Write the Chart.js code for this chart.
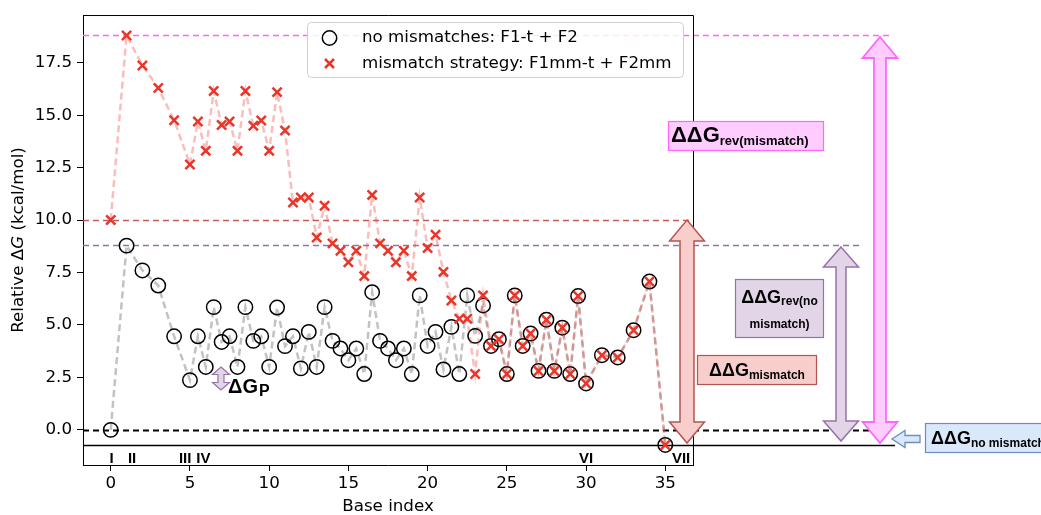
<!DOCTYPE html>
<html>
<head>
<meta charset="utf-8">
<script src="https://cdn.jsdelivr.net/npm/chart.js@4.4.0/dist/chart.umd.min.js"></script>
<style>
  html, body { margin: 0; padding: 0; background: #fff; }
  canvas { display: block; }
</style>
</head>
<body>
<canvas id="c" width="1041" height="515"></canvas>
<script>
// Base positions along the strand
const baseIndex = [0, 1, 2, 3, 4, 5,
  5.5, 6, 6.5, 7, 7.5, 8, 8.5, 9, 9.5, 10,
  10.5, 11, 11.5, 12, 12.5, 13, 13.5, 14, 14.5, 15,
  15.5, 16, 16.5, 17, 17.5, 18, 18.5, 19, 19.5, 20,
  20.5, 21, 21.5, 22, 22.5, 23, 23.5, 24, 24.5, 25,
  25.5, 26, 26.5, 27, 27.5, 28, 28.5, 29, 29.5, 30,
  31, 32, 33, 34, 35];

// Relative free energy (kcal/mol), no mismatches: F1-t + F2
const noMismatch = [0, 8.78, 7.6, 6.88, 4.46, 2.37,
  4.46, 3.0, 5.85, 4.19, 4.46, 3.0, 5.85, 4.24, 4.46, 3.0,
  5.83, 3.99, 4.46, 2.93, 4.67, 3.0, 5.85, 4.24, 3.88, 3.32,
  3.88, 2.66, 6.56, 4.24, 3.88, 3.32, 3.88, 2.66, 6.41, 4.0,
  4.67, 2.88, 4.91, 2.66, 6.41, 4.48, 5.93, 4.0, 4.32, 2.66,
  6.41, 4.0, 4.59, 2.81, 5.25, 2.81, 4.87, 2.66, 6.38, 2.21,
  3.56, 3.45, 4.75, 7.07, -0.72];

// Relative free energy (kcal/mol), mismatch strategy: F1mm-t + F2mm
const mismatch = [10.0, 18.8, 17.37, 16.3, 14.76, 12.65,
  14.7, 13.3, 16.15, 14.53, 14.7, 13.3, 16.15, 14.5, 14.75, 13.3,
  16.1, 14.27, 10.84, 11.08, 11.08, 9.17, 10.68, 8.89, 8.54, 7.99,
  8.54, 7.33, 11.2, 8.89, 8.54, 7.99, 8.54, 7.33, 11.08, 8.67,
  9.3, 7.53, 6.17, 5.3, 5.3, 2.66, 6.41, 4.0, 4.32, 2.66,
  6.41, 4.0, 4.59, 2.81, 5.25, 2.81, 4.87, 2.66, 6.38, 2.21,
  3.56, 3.45, 4.75, 7.07, -0.72];

const xTicks = [0, 5, 10, 15, 20, 25, 30, 35];
const yTicks = [0, 2.5, 5, 7.5, 10, 12.5, 15, 17.5];

// Reference energy levels
const levelRevMismatch = 18.8;
const levelMismatchStart = 10.0;
const levelRevNoMismatch = 8.8;
const levelZero = 0;
const levelEnd = -0.7;

// Stage markers along the base index
const stageLabels = ['I', 'II', 'III', 'IV', 'VI', 'VII'];
const stagePos = [0.05, 1.35, 4.7, 5.85, 30.0, 36.0];

const legendLabels = ['no mismatches: F1-t + F2', 'mismatch strategy: F1mm-t + F2mm'];

const MPL_FONT = '"DejaVu Sans", sans-serif';
const BOX_FONT = '"Liberation Sans", Arial, sans-serif';
const crossRed = '#e8362b';

function pts(ys) { return baseIndex.map((x, i) => ({ x: x, y: ys[i] })); }

function vArrow(ctx, cx, yTop, yBot, bodyW, headW, headLen, fill, stroke, lw) {
  ctx.beginPath();
  ctx.moveTo(cx, yTop);
  ctx.lineTo(cx + headW / 2, yTop + headLen);
  ctx.lineTo(cx + bodyW / 2, yTop + headLen);
  ctx.lineTo(cx + bodyW / 2, yBot - headLen);
  ctx.lineTo(cx + headW / 2, yBot - headLen);
  ctx.lineTo(cx, yBot);
  ctx.lineTo(cx - headW / 2, yBot - headLen);
  ctx.lineTo(cx - bodyW / 2, yBot - headLen);
  ctx.lineTo(cx - bodyW / 2, yTop + headLen);
  ctx.lineTo(cx - headW / 2, yTop + headLen);
  ctx.closePath();
  ctx.fillStyle = fill; ctx.fill();
  ctx.strokeStyle = stroke; ctx.lineWidth = lw; ctx.lineJoin = 'miter'; ctx.stroke();
}

function leftArrow(ctx, xTip, xEnd, cy, bodyH, headH, headLen, fill, stroke, lw) {
  ctx.beginPath();
  ctx.moveTo(xTip, cy);
  ctx.lineTo(xTip + headLen, cy - headH / 2);
  ctx.lineTo(xTip + headLen, cy - bodyH / 2);
  ctx.lineTo(xEnd, cy - bodyH / 2);
  ctx.lineTo(xEnd, cy + bodyH / 2);
  ctx.lineTo(xTip + headLen, cy + bodyH / 2);
  ctx.lineTo(xTip + headLen, cy + headH / 2);
  ctx.closePath();
  ctx.fillStyle = fill; ctx.fill();
  ctx.strokeStyle = stroke; ctx.lineWidth = lw; ctx.stroke();
}

function box(ctx, x, y, w, h, fill, stroke) {
  ctx.fillStyle = fill; ctx.fillRect(x, y, w, h);
  ctx.strokeStyle = stroke; ctx.lineWidth = 1.2; ctx.strokeRect(x + 0.5, y + 0.5, w - 1, h - 1);
}

// "ΔΔG" with a subscript; x is the start, returns the end x
function ddgLabel(ctx, x, base, sub, mainSize, subSize, subDrop) {
  ctx.fillStyle = '#000';
  ctx.textAlign = 'left';
  ctx.textBaseline = 'alphabetic';
  ctx.font = 'bold ' + mainSize + 'px ' + BOX_FONT;
  ctx.fillText('ΔΔG', x, base);
  const w1 = ctx.measureText('ΔΔG').width;
  ctx.font = 'bold ' + subSize + 'px ' + BOX_FONT;
  ctx.fillText(sub, x + w1, base + subDrop);
  return x + w1 + ctx.measureText(sub).width;
}
function ddgWidth(ctx, sub, mainSize, subSize) {
  ctx.font = 'bold ' + mainSize + 'px ' + BOX_FONT;
  const w1 = ctx.measureText('ΔΔG').width;
  ctx.font = 'bold ' + subSize + 'px ' + BOX_FONT;
  return w1 + ctx.measureText(sub).width;
}

const decor = {
  id: 'decor',
  beforeDatasetsDraw(chart) {
    const ctx = chart.ctx, ys = chart.scales.y, a = chart.chartArea;
    ctx.save();
    const hline = (v, xEnd, color, lw, dash) => {
      const y = Math.round(ys.getPixelForValue(v)) + 0.5;
      ctx.beginPath();
      ctx.setLineDash(dash);
      ctx.strokeStyle = color; ctx.lineWidth = lw;
      ctx.moveTo(a.left, y); ctx.lineTo(xEnd, y); ctx.stroke();
    };
    hline(levelRevMismatch, 893, '#ff66ff', 1.6, [6, 4]);
    hline(levelMismatchStart, 690, '#c25b57', 1.5, [6, 4]);
    hline(levelRevNoMismatch, 860, '#9673a6', 1.5, [6, 4]);
    hline(levelZero, 893, '#000', 1.8, [6, 4]);
    hline(levelEnd, 895, '#000', 1.5, []);
    ctx.restore();
  },
  afterDraw(chart) {
    const ctx = chart.ctx, xs = chart.scales.x, ys = chart.scales.y, a = chart.chartArea;
    ctx.save();

    // frame (top and right spines)
    ctx.strokeStyle = '#000'; ctx.lineWidth = 1;
    ctx.beginPath();
    ctx.moveTo(a.left, a.top + 0.5); ctx.lineTo(a.right + 0.5, a.top + 0.5); ctx.lineTo(a.right + 0.5, a.bottom);
    ctx.stroke();

    // legend
    const lx = 307, ly = 22, lw = 376, lh = 55;
    ctx.beginPath();
    ctx.roundRect(lx + 0.5, ly + 0.5, lw, lh, 4);
    ctx.fillStyle = 'rgba(255,255,255,0.85)'; ctx.fill();
    ctx.strokeStyle = '#d0d0d0'; ctx.lineWidth = 1; ctx.stroke();
    ctx.beginPath(); ctx.arc(329.5, 38, 7.2, 0, Math.PI * 2);
    ctx.strokeStyle = '#000'; ctx.lineWidth = 1.5; ctx.stroke();
    ctx.beginPath();
    ctx.moveTo(325, 59); ctx.lineTo(334, 68); ctx.moveTo(334, 59); ctx.lineTo(325, 68);
    ctx.strokeStyle = crossRed; ctx.lineWidth = 2.5; ctx.stroke();
    ctx.fillStyle = '#000'; ctx.font = '16.7px ' + MPL_FONT;
    ctx.textAlign = 'left'; ctx.textBaseline = 'middle';
    ctx.fillText(legendLabels[0], 362, 38);
    ctx.fillText(legendLabels[1], 362, 64);

    // axis titles
    ctx.font = '16.7px ' + MPL_FONT;
    ctx.textAlign = 'center'; ctx.textBaseline = 'middle';
    ctx.fillText('Base index', (a.left + a.right) / 2, 507);
    ctx.save();
    ctx.translate(19, (a.top + a.bottom) / 2);
    ctx.rotate(-Math.PI / 2);
    const parts = [['Relative Δ', '16.7px ' + MPL_FONT], ['G', 'italic 16.7px ' + MPL_FONT], [' (kcal/mol)', '16.7px ' + MPL_FONT]];
    let total = 0;
    parts.forEach(p => { ctx.font = p[1]; total += ctx.measureText(p[0]).width; });
    let px = -total / 2;
    ctx.textAlign = 'left';
    parts.forEach(p => { ctx.font = p[1]; ctx.fillText(p[0], px, 0); px += ctx.measureText(p[0]).width; });
    ctx.restore();

    // stage markers
    ctx.fillStyle = '#000';
    ctx.font = 'bold 15px ' + BOX_FONT;
    ctx.textAlign = 'center'; ctx.textBaseline = 'alphabetic';
    stageLabels.forEach((s, i) => ctx.fillText(s, xs.getPixelForValue(stagePos[i]), 463));

    // ΔG_P marker
    vArrow(ctx, 221, 367, 390, 6, 17, 7.5, '#e1d5e7', '#9673a6', 1.2);
    ctx.fillStyle = '#000'; ctx.textAlign = 'left';
    ctx.font = 'bold 20px ' + BOX_FONT;
    ctx.fillText('ΔG', 228, 393);
    const gw = ctx.measureText('ΔG').width;
    ctx.font = 'bold 16px ' + BOX_FONT;
    ctx.fillText('P', 228 + gw + 1, 396);

    // energy gap arrows
    vArrow(ctx, 687, ys.getPixelForValue(levelMismatchStart), 443, 14, 35, 21, '#f8cecc', '#b85450', 1.5);
    vArrow(ctx, 841, 247, 441, 10, 35, 20, '#e1d5e7', '#9673a6', 1.5);
    vArrow(ctx, 880, 37, 443, 12, 35, 21, '#ffccff', '#ff66ff', 1.8);
    leftArrow(ctx, 892, 920, 439, 7, 17, 13, '#dae8fc', '#6c8ebf', 1.3);

    // labelled boxes
    let w;
    box(ctx, 668, 121, 156, 30, '#ffccff', '#ff66ff');
    ddgLabel(ctx, 671, 142, 'rev(mismatch)', 22, 13, 2.5);

    box(ctx, 735, 279, 89, 59, '#e1d5e7', '#9673a6');
    w = ddgWidth(ctx, 'rev(no', 18, 12);
    ddgLabel(ctx, 779.5 - w / 2, 302.5, 'rev(no', 18, 12, 2.5);
    ctx.font = 'bold 12px ' + BOX_FONT; ctx.textAlign = 'center';
    ctx.fillText('mismatch)', 779.5, 328);

    box(ctx, 697, 355, 120, 30, '#f8cecc', '#b85450');
    w = ddgWidth(ctx, 'mismatch', 18, 12);
    ddgLabel(ctx, 757 - w / 2, 376, 'mismatch', 18, 12, 2.5);

    box(ctx, 925, 423, 130, 30, '#dae8fc', '#6c8ebf');
    ddgLabel(ctx, 931, 444, 'no mismatch', 18, 12, 2.5);

    ctx.restore();
  }
};

const tickFont = { family: 'DejaVu Sans', size: 16.7 };

new Chart(document.getElementById('c'), {
  type: 'scatter',
  data: {
    datasets: [
      {
        label: legendLabels[1],
        data: pts(mismatch),
        showLine: true,
        order: 0,
        borderColor: 'rgba(232,54,43,0.32)',
        borderWidth: 2.5,
        borderDash: [7, 4],
        pointStyle: 'crossRot',
        pointRadius: 6.5,
        pointBorderWidth: 2.5,
        pointBorderColor: crossRed,
        pointBackgroundColor: crossRed
      },
      {
        label: legendLabels[0],
        data: pts(noMismatch),
        showLine: true,
        order: 1,
        borderColor: 'rgba(128,128,128,0.48)',
        borderWidth: 2.5,
        borderDash: [7, 4],
        pointStyle: 'circle',
        pointRadius: 7.2,
        pointBorderWidth: 1.5,
        pointBorderColor: '#000',
        pointBackgroundColor: 'rgba(0,0,0,0)'
      }
    ]
  },
  options: {
    responsive: false,
    animation: false,
    devicePixelRatio: 1,
    layout: { padding: { left: 0, right: 348, top: 15, bottom: 0 } },
    plugins: { legend: { display: false }, tooltip: { enabled: false } },
    scales: {
      x: {
        type: 'linear', min: -1.75, max: 36.75,
        afterBuildTicks: s => { s.ticks = xTicks.map(v => ({ value: v })); },
        afterFit: s => { s.height = 50; },
        grid: { display: true, drawOnChartArea: false, drawTicks: true, tickLength: 6, tickColor: '#000', tickWidth: 1 },
        border: { display: true, color: '#000', width: 1 },
        ticks: { font: tickFont, color: '#000', padding: 3, maxRotation: 0, autoSkip: false, callback: v => String(v) }
      },
      y: {
        type: 'linear', min: -1.675, max: 19.775,
        afterBuildTicks: s => { s.ticks = yTicks.map(v => ({ value: v })); },
        afterFit: s => { s.width = 83; },
        grid: { display: true, drawOnChartArea: false, drawTicks: true, tickLength: 6, tickColor: '#000', tickWidth: 1 },
        border: { display: true, color: '#000', width: 1 },
        ticks: { font: tickFont, color: '#000', padding: 5, autoSkip: false, callback: v => v.toFixed(1) }
      }
    }
  },
  plugins: [decor]
});
</script>
</body>
</html>
